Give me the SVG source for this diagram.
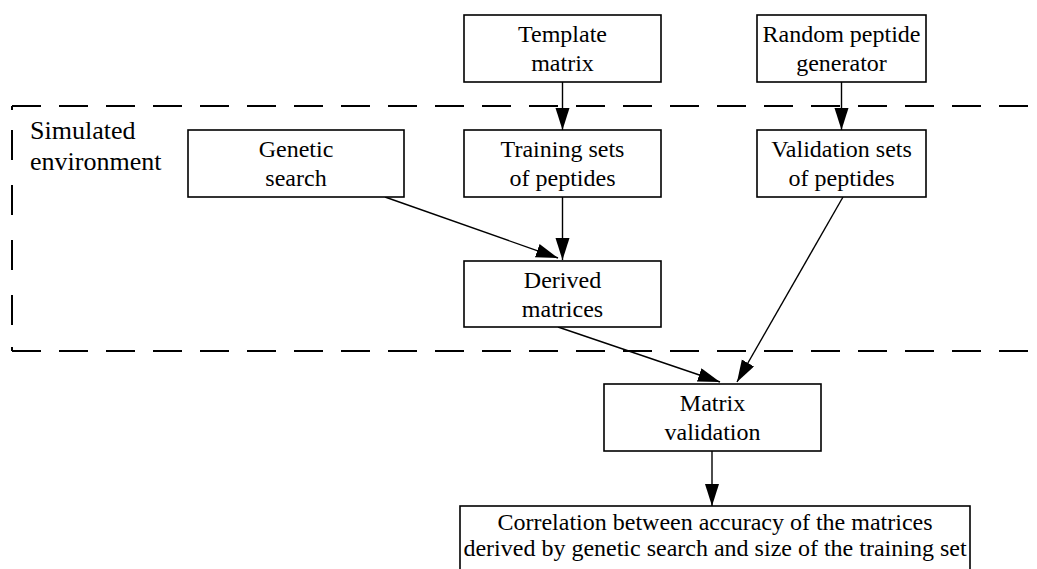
<svg xmlns="http://www.w3.org/2000/svg" width="1037" height="569" viewBox="0 0 1037 569">
<style>
.box{fill:#fff;stroke:#000;stroke-width:1.6}
.t{font-family:'Liberation Serif','Times New Roman',serif;font-size:24px;fill:#000;text-anchor:middle}
.lbl{font-family:'Liberation Serif','Times New Roman',serif;font-size:26px;fill:#000}
.c{stroke:#000;stroke-width:1.4;fill:none;marker-end:url(#ah)}
.env{fill:none;stroke:#000;stroke-width:2}
.h{stroke-dasharray:29 18}
.v{stroke-dasharray:30 25;stroke-dashoffset:-24}
</style>
<defs>
<marker id="ah" markerUnits="userSpaceOnUse" markerWidth="24" markerHeight="16" refX="22" refY="7" orient="auto">
<path d="M0,0 L22,7 L0,14 Z" fill="#000"/>
</marker>
</defs>
<g id="environment">
<path class="env h" d="M12,106 H1037"/>
<path class="env h" d="M12,351 H1037"/>
<path class="env v" d="M12,106 V351"/>
<path class="env" d="M12,106 V110 M12,351 V347"/>
<text class="lbl" x="30" y="139">Simulated</text>
<text class="lbl" x="30" y="170">environment</text>
</g>
<g id="connectors">
<line class="c" x1="562.5" y1="82" x2="562.5" y2="130"/>
<line class="c" x1="841.5" y1="82" x2="841.5" y2="130"/>
<line class="c" x1="562.5" y1="197" x2="562.5" y2="260"/>
<line class="c" x1="385" y1="197" x2="558" y2="258"/>
<line class="c" x1="843" y1="197" x2="737" y2="382"/>
<line class="c" x1="558" y1="327" x2="720" y2="382"/>
<line class="c" x1="712" y1="451" x2="712" y2="506"/>
</g>
<g id="template"><rect class="box" x="464" y="15" width="197" height="67"/><text class="t" x="562.5" y="42">Template</text><text class="t" x="562.5" y="71">matrix</text></g>
<g id="random"><rect class="box" x="757" y="15" width="169" height="67"/><text class="t" x="841.5" y="42">Random peptide</text><text class="t" x="841.5" y="71">generator</text></g>
<g id="genetic"><rect class="box" x="188" y="130" width="216" height="67"/><text class="t" x="296" y="157">Genetic</text><text class="t" x="296" y="186">search</text></g>
<g id="training"><rect class="box" x="464" y="130" width="197" height="67"/><text class="t" x="562.5" y="157">Training sets</text><text class="t" x="562.5" y="186">of peptides</text></g>
<g id="validation"><rect class="box" x="757" y="130" width="169" height="67"/><text class="t" x="841.5" y="157">Validation sets</text><text class="t" x="841.5" y="186">of peptides</text></g>
<g id="derived"><rect class="box" x="464" y="261" width="197" height="66"/><text class="t" x="562.5" y="288">Derived</text><text class="t" x="562.5" y="317">matrices</text></g>
<g id="matrixval"><rect class="box" x="604" y="384" width="217" height="67"/><text class="t" x="712.5" y="411">Matrix</text><text class="t" x="712.5" y="440">validation</text></g>
<g id="correlation"><rect class="box" x="460" y="506" width="510" height="80"/><text class="t" x="715" y="530">Correlation between accuracy of the matrices</text><text class="t" x="715" y="556">derived by genetic search and size of the training set</text></g>
</svg>
